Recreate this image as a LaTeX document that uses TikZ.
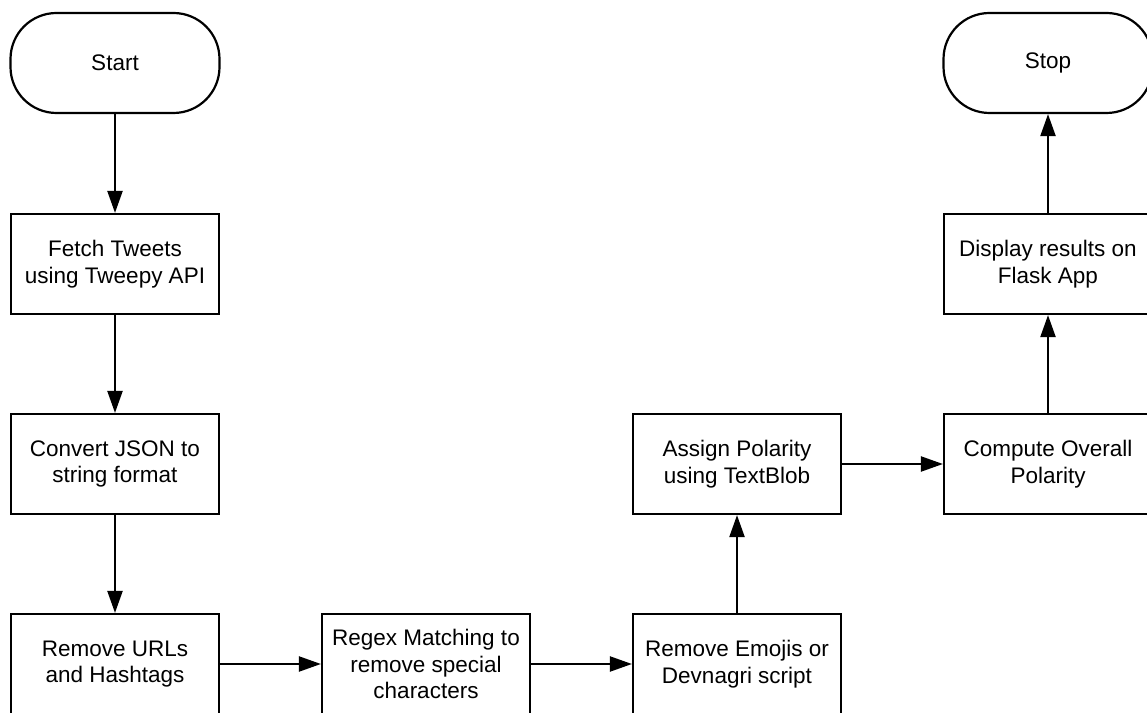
\documentclass[tikz,border=0pt]{standalone}
\usepackage{fontspec}
\setmainfont{Liberation Sans}
\usetikzlibrary{arrows.meta}
\begin{document}
\begin{tikzpicture}[x=1pt,y=1pt,
  box/.style={draw=black, line width=2.2pt, fill=white, minimum width=208pt, minimum height=100pt, align=center, inner sep=0pt, font=\fontsize{22.5}{26.5}\selectfont},
  term/.style={box, rounded corners=46pt, minimum width=209pt},
  arr/.style={line width=2.2pt, -{Triangle[length=22pt 0,width=15pt 0]}}
]
\useasboundingbox (0,0) rectangle (1147,712);
\begin{scope}
\clip (0,0) rectangle (1147,712);
\node[term] (start) at (115,649) {Start};
\node[term] (stop) at (1048,649) {Stop};
\node[box] (fetch) at (115,448) {Fetch Tweets\\using Tweepy API};
\node[box] (conv) at (115,248) {Convert JSON to\\string format};
\node[box] (urls) at (115,48) {Remove URLs\\and Hashtags};
\node[box] (regex) at (426,48) {Regex Matching to\\remove special\\characters};
\node[box] (emoji) at (737,48) {Remove Emojis or\\Devnagri script};
\node[box] (assign) at (737,248) {Assign Polarity\\using TextBlob};
\node[box] (comp) at (1048,248) {Compute Overall\\Polarity};
\node[box] (disp) at (1048,448) {Display results on\\Flask App};
\draw[arr] (start) -- (fetch);
\draw[arr] (fetch) -- (conv);
\draw[arr] (conv) -- (urls);
\draw[arr] (urls) -- (regex);
\draw[arr] (regex) -- (emoji);
\draw[arr] (emoji) -- (assign);
\draw[arr] (assign) -- (comp);
\draw[arr] (comp) -- (disp);
\draw[arr] (disp) -- (stop);
\end{scope}
\end{tikzpicture}
\end{document}
